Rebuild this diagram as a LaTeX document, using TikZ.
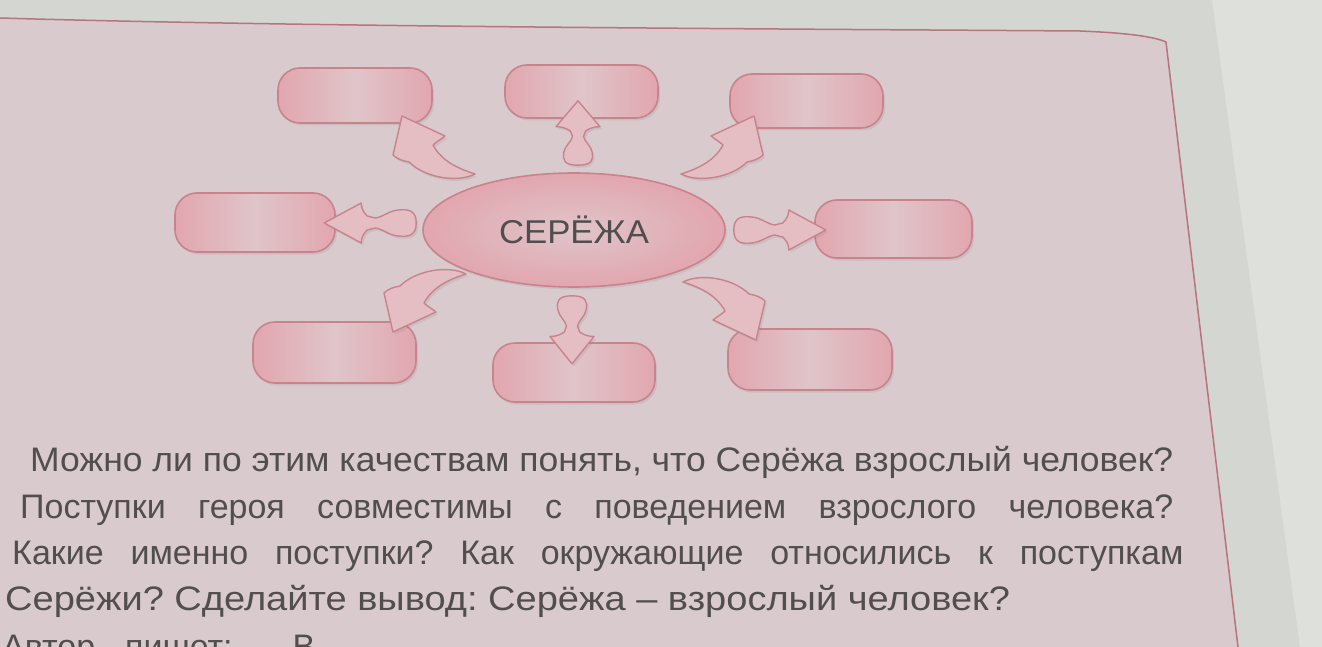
\documentclass[tikz,border=0pt]{standalone}
\usepackage{fontspec}
\usepackage{graphicx}
\setmainfont{Liberation Sans}
\frenchspacing
\usetikzlibrary{shapes.geometric,shadows}
\definecolor{bgpink}{HTML}{D9CACD}
\definecolor{pagegrey}{HTML}{D4D6D2}
\definecolor{pagelight}{HTML}{DEE0DC}
\definecolor{frameline}{HTML}{B7747E}
\definecolor{boxedge}{HTML}{C8838D}
\definecolor{boxdark}{HTML}{E2A6AF}
\definecolor{boxlight}{HTML}{DFC5C9}
\definecolor{arrowfill}{HTML}{E4BEC3}
\definecolor{textgrey}{HTML}{524E4F}
\tikzset{
  softshadow/.style={drop shadow={opacity=0.16, shadow xshift=2pt, shadow yshift=-2.5pt}},
  box/.style={draw=boxedge, line width=1.6pt, rounded corners=22pt, inner sep=0pt,
     left color=boxdark, right color=boxdark, middle color=boxlight, softshadow},
  oval/.style={ellipse, draw=boxedge, line width=1.6pt, inner sep=0pt,
     inner color=boxlight, outer color=boxdark, softshadow, text=textgrey},
  arrowshape/.style={draw=boxedge, line width=1.4pt, fill=arrowfill, line join=round, softshadow},
  txt/.style={text=textgrey, inner sep=0pt, anchor=base west, font=\fontsize{34}{40}\selectfont},
  sarrow/.pic={\path[arrowshape] (0,0) .. controls (0,-13) and (8,-14) .. (18,-13)
     .. controls (28,-12) and (33,-6) .. (41,-5) -- (49,-7)
     .. controls (53,-11) and (55,-15) .. (55,-20) -- (92,0) -- (55,20)
     .. controls (55,15) and (53,11) .. (49,7) -- (41,5)
     .. controls (33,6) and (28,12) .. (18,13) .. controls (8,14) and (0,13) .. (0,0) -- cycle;},
  carrow/.pic={\path[arrowshape] (-103,-49) .. controls (-120,-40) and (-153,-45) .. (-169,-61)
     .. controls (-175,-62) and (-181,-64) .. (-185,-68) -- (-176,-107) -- (-133,-87)
     .. controls (-138,-83) and (-142,-81) .. (-145,-78)
     .. controls (-137,-63) and (-122,-55) .. (-103,-49) -- cycle;}
}
\begin{document}
\begin{tikzpicture}[x=1pt,y=-1pt]
\useasboundingbox (0,0) rectangle (1322,647);
\clip (0,0) rectangle (1322,647);
% page background
\fill[pagegrey] (0,0) rectangle (1322,647);
\fill[pagelight] (1212,0) -- (1322,0) -- (1322,647) -- (1300,647) -- cycle;
\fill[bgpink] (0,18) .. controls (300,27) and (800,29) .. (1080,31) .. controls (1130,33) and (1155,37) .. (1166,42) -- (1238,647) -- (0,647) -- cycle;
\draw[frameline, line width=1.5pt] (0,18) .. controls (300,27) and (800,29) .. (1080,31) .. controls (1130,33) and (1155,37) .. (1166,42) -- (1238,647);
% central oval
\node[oval, minimum width=302pt, minimum height=114pt] (c) at (574,230)
  {\resizebox{150pt}{\height}{\fontsize{33}{36}\selectfont СЕРЁЖА}};
% boxes
\node[box, minimum width=154pt, minimum height=55pt] (tl) at (355,95.5) {};
\node[box, minimum width=153pt, minimum height=53pt] (tm) at (581.5,91.5) {};
\node[box, minimum width=153pt, minimum height=54pt] (tr) at (806.5,101) {};
\node[box, minimum width=160pt, minimum height=59pt] (ml) at (255,222.5) {};
\node[box, minimum width=157pt, minimum height=58pt] (mr) at (893.5,229) {};
\node[box, minimum width=163pt, minimum height=61pt] (bl) at (334.5,352.5) {};
\node[box, minimum width=162pt, minimum height=59pt] (bm) at (574,372.5) {};
\node[box, minimum width=164pt, minimum height=61pt] (br) at (810,359.5) {};
% arrows
\pic[rotate=180] at ([shift={(-6,-7)}]c.west) {sarrow};
\pic at ([shift={(8,0)}]c.east) {sarrow};
\pic[rotate=90, xscale=0.7, yscale=1.1] at ([shift={(4,-7)}]c.north) {sarrow};
\pic[rotate=-90, xscale=0.74, yscale=1.1] at ([shift={(-2,8)}]c.south) {sarrow};
\pic at ([shift={(4,-7)}]c.center) {carrow};
\pic[xscale=-1] at ([shift={(4,-7)}]c.center) {carrow};
\pic[yscale=-1] at ([shift={(-5,-5)}]c.center) {carrow};
\pic[xscale=-1, yscale=-1] at ([shift={(6,3)}]c.center) {carrow};
% text
\node[txt] (l1) at (30,471) {\resizebox{1143pt}{\height}{Можно ли по этим качествам понять, что Серёжа взрослый человек?}};
\node[txt] (l2) at (20,518) {\makebox[1153pt][s]{Поступки героя совместимы с поведением взрослого человека?}};
\node[txt] (l3) at (12,564) {\makebox[1171pt][s]{Какие именно поступки? Как окружающие относились к поступкам}};
\node[txt] (l4) at (5,610) {\resizebox{1005pt}{\height}{Серёжи? Сделайте вывод: Серёжа – взрослый человек?}};
\node[txt] (l5) at (2,658) {Автор\hspace{30pt}пишет:\hspace{60pt}В};
\end{tikzpicture}
\end{document}
